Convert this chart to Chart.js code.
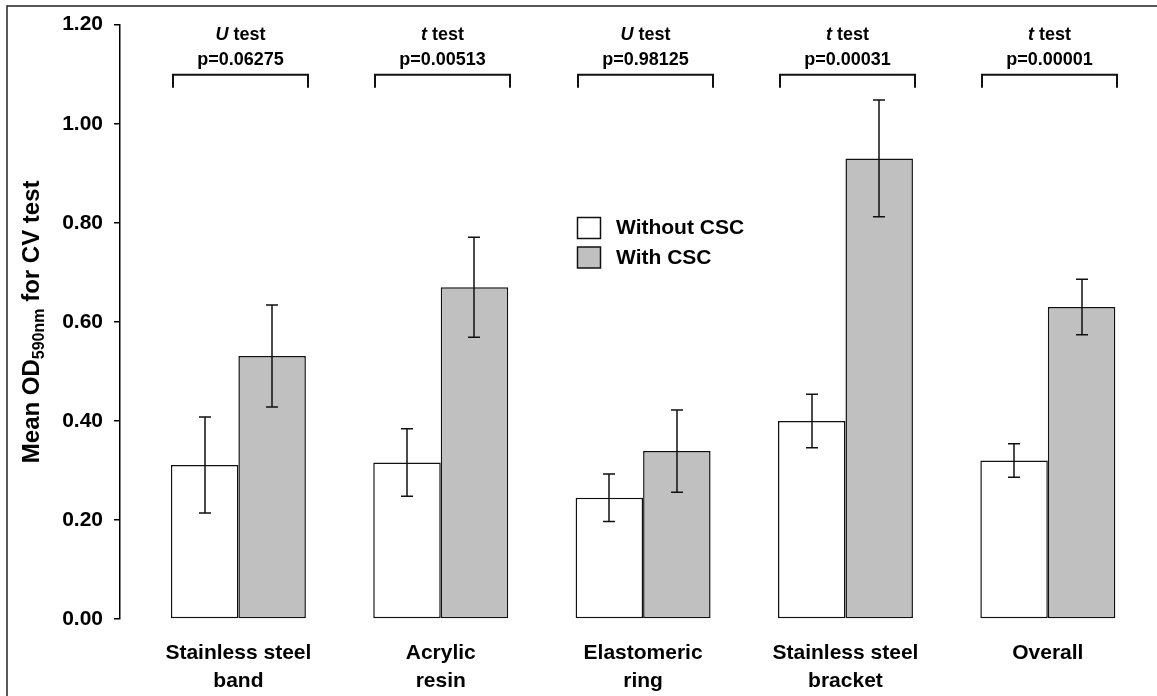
<!DOCTYPE html>
<html>
<head>
<meta charset="utf-8">
<script src="https://cdn.jsdelivr.net/npm/chart.js@4.4.1/dist/chart.umd.min.js"></script>
<style>
  html, body { margin: 0; padding: 0; background: #fff; }
  canvas { display: block; }
</style>
</head>
<body>
<canvas id="chart" width="1157" height="696"></canvas>
<script>
// Material groups (multi-line axis labels)
const categories = [
  ['Stainless steel', 'band'],
  ['Acrylic', 'resin'],
  ['Elastomeric', 'ring'],
  ['Stainless steel', 'bracket'],
  ['Overall']
];
// Mean OD590nm and error bar half-lengths
const withoutCSC    = [0.311, 0.316, 0.245, 0.400, 0.320];
const withoutCSCErr = [0.097, 0.068, 0.048, 0.054, 0.034];
const withCSC       = [0.531, 0.670, 0.339, 0.930, 0.630];
const withCSCErr    = [0.103, 0.101, 0.083, 0.118, 0.056];
// Statistical test per group
const testNames = ['U', 't', 'U', 't', 't'];
const pValues   = ['p=0.06275', 'p=0.00513', 'p=0.98125', 'p=0.00031', 'p=0.00001'];
// Y axis range
const yMin = 0, yMax = 1.2, yStep = 0.2;

const FONT = "'Liberation Sans', Arial, Helvetica, sans-serif";
const INK = '#111';

const overlay = {
  id: 'overlay',
  afterDatasetsDraw(chart) {
    const ctx = chart.ctx;
    const ys = chart.scales.y;
    const area = chart.chartArea;
    const m0 = chart.getDatasetMeta(0);
    const m1 = chart.getDatasetMeta(1);
    ctx.save();

    // error bars
    ctx.strokeStyle = INK;
    ctx.lineWidth = 1.5;
    [[m0, withoutCSC, withoutCSCErr], [m1, withCSC, withCSCErr]].forEach(([meta, vals, errs]) => {
      meta.data.forEach((bar, i) => {
        const x = Math.round(bar.x);
        const yHi = ys.getPixelForValue(vals[i] + errs[i]);
        const yLo = ys.getPixelForValue(vals[i] - errs[i]);
        ctx.beginPath();
        ctx.moveTo(x, yHi); ctx.lineTo(x, yLo);
        ctx.moveTo(x - 6, yHi); ctx.lineTo(x + 6, yHi);
        ctx.moveTo(x - 6, yLo); ctx.lineTo(x + 6, yLo);
        ctx.stroke();
      });
    });

    // comparison brackets with test name and p value
    ctx.lineWidth = 2;
    ctx.fillStyle = '#000';
    ctx.textBaseline = 'middle';
    categories.forEach((_, i) => {
      const a = m0.data[i], b = m1.data[i];
      const x0 = Math.round(a.x - a.width / 2) + 2;
      const x1 = Math.round(b.x + b.width / 2) + 2;
      const top = area.top + 50, legs = area.top + 63;
      ctx.beginPath();
      ctx.moveTo(x0, legs); ctx.lineTo(x0, top); ctx.lineTo(x1, top); ctx.lineTo(x1, legs);
      ctx.stroke();

      const cx = (x0 + x1) / 2;
      const italic = 'italic bold 18px ' + FONT;
      const plain = 'bold 18px ' + FONT;
      ctx.font = italic;
      const w1 = ctx.measureText(testNames[i]).width;
      ctx.font = plain;
      const w2 = ctx.measureText(' test').width;
      let sx = cx - (w1 + w2) / 2;
      ctx.textAlign = 'left';
      ctx.font = italic;
      ctx.fillText(testNames[i], sx, area.top + 10);
      ctx.font = plain;
      ctx.fillText(' test', sx + w1, area.top + 10);
      ctx.textAlign = 'center';
      ctx.fillText(pValues[i], cx, area.top + 35);
    });

    // legend
    ctx.textAlign = 'left';
    ctx.font = 'bold 21px ' + FONT;
    ctx.lineWidth = 1.5;
    chart.data.datasets.forEach((ds, i) => {
      const bx = 577.5, by = 217.5 + i * 29.5;
      ctx.fillStyle = ds.backgroundColor;
      ctx.fillRect(bx, by, 23, 21);
      ctx.strokeStyle = INK;
      ctx.strokeRect(bx, by, 23, 21);
      ctx.fillStyle = '#000';
      ctx.fillText(ds.label, 616, by + 11);
    });

    // y axis title with subscript
    ctx.translate(30, (area.top + area.bottom) / 2);
    ctx.rotate(-Math.PI / 2);
    const parts = [['Mean OD', 24, 0], ['590nm', 16, 5], [' for CV test', 24, 0]];
    let total = 0;
    parts.forEach(p => { ctx.font = 'bold ' + p[1] + 'px ' + FONT; total += ctx.measureText(p[0]).width; });
    let px = -total / 2;
    ctx.textBaseline = 'alphabetic';
    ctx.fillStyle = '#000';
    parts.forEach(p => {
      ctx.font = 'bold ' + p[1] + 'px ' + FONT;
      ctx.fillText(p[0], px, 8.5 + p[2]);
      px += ctx.measureText(p[0]).width;
    });
    ctx.restore();
  },
  afterDraw(chart) {
    // figure frame (left and top edges)
    const ctx = chart.ctx;
    ctx.save();
    ctx.strokeStyle = '#222';
    ctx.lineWidth = 1.5;
    ctx.beginPath();
    ctx.moveTo(7, chart.height); ctx.lineTo(7, 6); ctx.lineTo(chart.width, 6);
    ctx.stroke();
    ctx.restore();
  }
};

const tickFont = { family: FONT, size: 21, weight: 'bold', lineHeight: 1.3 };

new Chart(document.getElementById('chart'), {
  type: 'bar',
  data: {
    datasets: [
      {
        label: 'Without CSC',
        data: withoutCSC.map((v, i) => ({ x: i, y: v })),
        backgroundColor: '#ffffff',
        borderColor: INK,
        borderWidth: 1.5,
        borderSkipped: false,
        categoryPercentage: 0.667,
        barPercentage: 1.0
      },
      {
        label: 'With CSC',
        data: withCSC.map((v, i) => ({ x: i, y: v })),
        backgroundColor: '#c0c0c0',
        borderColor: INK,
        borderWidth: 1.5,
        borderSkipped: false,
        categoryPercentage: 0.667,
        barPercentage: 1.0
      }
    ]
  },
  options: {
    responsive: false,
    animation: false,
    devicePixelRatio: 1,
    layout: { padding: { left: 0, top: 24, right: 8, bottom: 0 } },
    plugins: { legend: { display: false }, tooltip: { enabled: false } },
    scales: {
      x: {
        type: 'linear',
        min: -0.585,
        max: 4.5,
        offset: false,
        grid: { display: false },
        border: { display: false },
        afterBuildTicks: s => { s.ticks = categories.map((_, i) => ({ value: i })); },
        afterFit: s => { s.height = 77; },
        ticks: {
          autoSkip: false,
          maxRotation: 0,
          padding: 13,
          color: '#000',
          font: tickFont,
          callback: v => categories[v]
        }
      },
      y: {
        min: yMin,
        max: yMax,
        afterFit: s => { s.width = 120; },
        grid: { drawOnChartArea: false, drawTicks: true, tickLength: 6, color: '#000', tickColor: '#000', lineWidth: 1.5 },
        border: { display: true, color: '#000', width: 1.5 },
        ticks: {
          stepSize: yStep,
          padding: 11,
          color: '#000',
          font: tickFont,
          callback: v => v.toFixed(2)
        }
      }
    }
  },
  plugins: [overlay]
});
</script>
</body>
</html>
